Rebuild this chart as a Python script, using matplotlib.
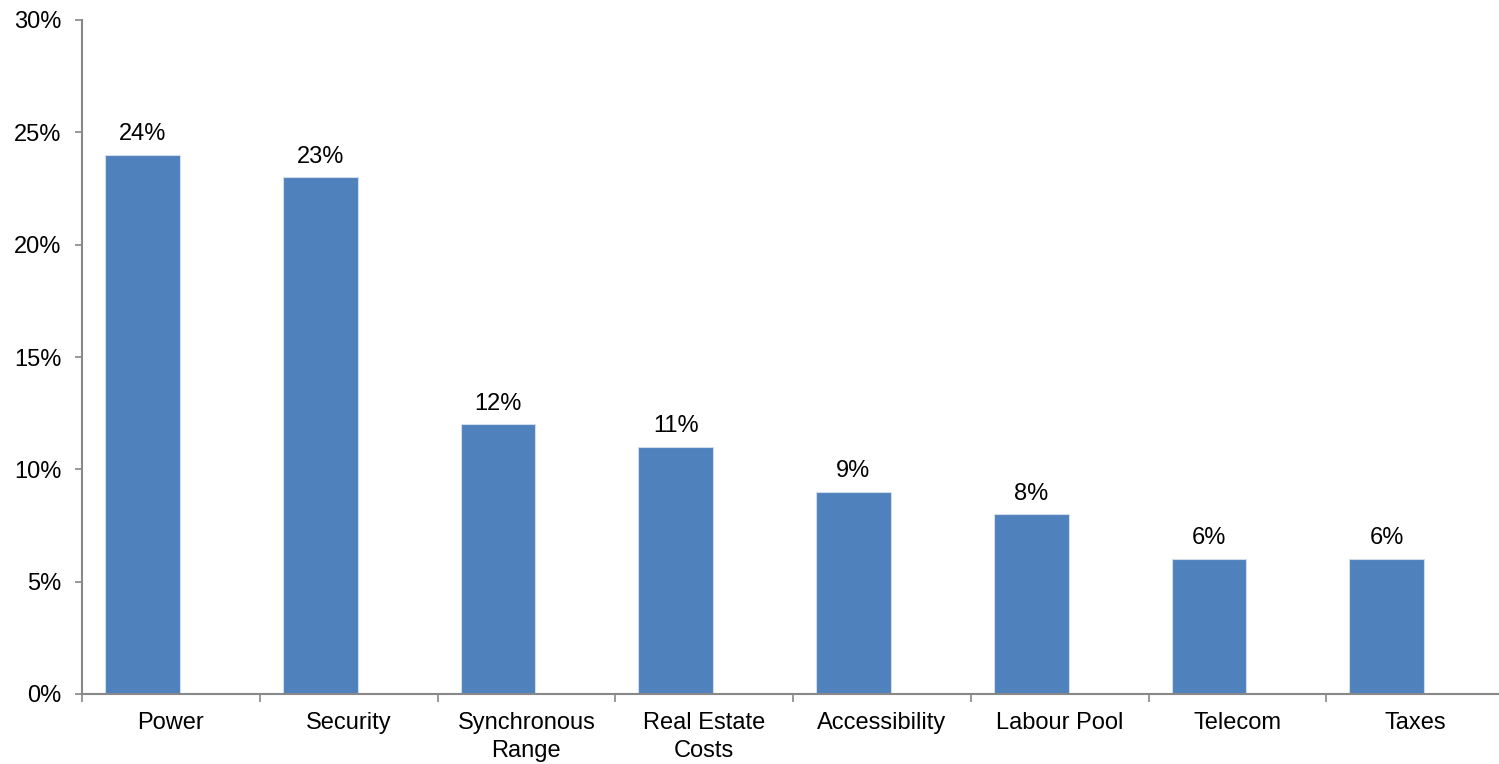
import matplotlib.pyplot as plt
import numpy as np

plt.rcParams['font.family'] = ['Liberation Sans', 'DejaVu Sans']

factors = ["Power", "Security", "Synchronous\nRange", "Real Estate\nCosts",
           "Accessibility", "Labour Pool", "Telecom", "Taxes"]
shares = [24, 23, 12, 11, 9, 8, 6, 6]
yticks = [0, 5, 10, 15, 20, 25, 30]

W, H = 1499, 764
fig = plt.figure(figsize=(W / 100, H / 100), dpi=100)
ax = fig.add_axes([82 / W, 1 - 694 / H, (1504 - 82) / W, (694 - 20) / H])

x = np.arange(len(factors))
# bars sit a little left of the category centre
bx = x - 0.16
bars = ax.bar(bx, shares, width=0.42, color='#4F81BD', edgecolor='#D0DCEC',
              linewidth=0.8, zorder=2)
for b, v in zip(bars, shares):
    ax.annotate(f"{v}%", (b.get_x() + b.get_width() / 2, v),
                xytext=(0, 7), textcoords='offset points',
                ha='center', va='bottom', fontsize=17)

ax.set_xlim(-0.5, len(factors) - 0.5)
ax.set_ylim(0, 30)
ax.set_yticks(yticks)
ax.set_yticklabels([f"{t}%" for t in yticks], fontsize=17)

# categories centred on their slots, tick marks sit between them
ax.set_xticks(x)
ax.set_xticklabels(factors, fontsize=17, linespacing=1.35)
ax.tick_params(axis='x', length=0, pad=13)
ax.set_xticks(np.arange(len(factors) + 1) - 0.5, minor=True)
ax.tick_params(axis='x', which='minor', length=6, color='#888888', width=1.2)
ax.tick_params(axis='y', length=5, color='#888888', width=1.2, pad=10)

for s in ['top', 'right']:
    ax.spines[s].set_visible(False)
for s in ['left', 'bottom']:
    ax.spines[s].set_color('#888888')
    ax.spines[s].set_linewidth(1.5)

fig.savefig('out.png', dpi=100)
